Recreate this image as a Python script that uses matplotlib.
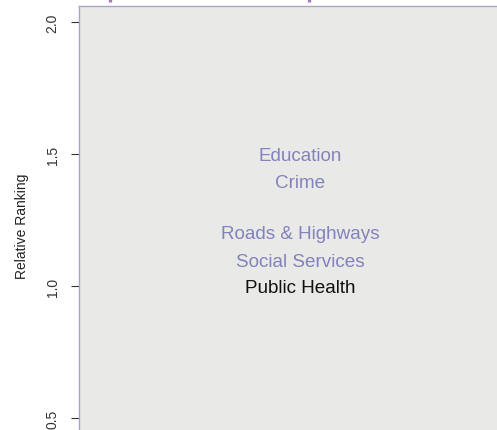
import matplotlib
matplotlib.use("Agg")
import matplotlib.pyplot as plt

# issue labels and their relative ranking
issues = ["Education", "Crime", "Roads & Highways", "Social Services", "Public Health"]
ranking = [1.5, 1.398, 1.208, 1.102, 1.0]
label_colors = ["#8282bc", "#8282bc", "#8282bc", "#8282bc", "#111111"]
x_pos = 0.5

# small marks poking in above the panel
top_marks = [0.07, 0.52]

y_ticks = [0.5, 1.0, 1.5, 2.0]

fig = plt.figure(figsize=(4.97, 4.31), dpi=100)
fig.patch.set_facecolor("white")
ax = fig.add_axes([79 / 497, -0.0334, 442 / 497, 1.0172])
ax.set_facecolor("#e9eae8")
ax.set_xlim(0, 1)
ax.set_ylim(0.4, 2.0606)

for name, r, c in zip(issues, ranking, label_colors):
    ax.text(x_pos, r, name, ha="center", va="center_baseline", fontsize=13.6,
            color=c, family="Liberation Sans")

ax.vlines(top_marks, 2.074, 2.095, colors="#a47cba", linewidth=2.4, clip_on=False)

for side in ["top", "left"]:
    ax.spines[side].set_color("#a9a3c9")
    ax.spines[side].set_linewidth(1.0)
for side in ["right", "bottom"]:
    ax.spines[side].set_visible(False)

ax.set_xticks([])
ax.set_yticks(y_ticks)
ax.set_yticklabels([f"{v:.1f}" for v in y_ticks], rotation=90, va="center",
                   fontsize=10, color="#333333", family="Liberation Sans")
ax.tick_params(axis="y", length=6, width=0.8, color="#333333", pad=8)
ax.set_ylabel("Relative Ranking", fontsize=10, color="#222222",
              family="Liberation Sans", labelpad=12)

fig.savefig("out.png", dpi=100)
